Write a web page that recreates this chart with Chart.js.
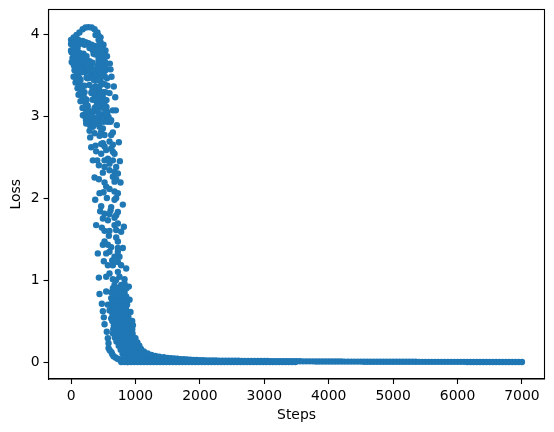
<!DOCTYPE html>
<html>
<head>
<meta charset="utf-8">
<title>Loss</title>
<script src="https://cdn.jsdelivr.net/npm/chart.js@4"></script>
<style>
  html, body { margin: 0; padding: 0; background: #fff; }
  canvas { display: block; }
</style>
</head>
<body>
<canvas id="myChart" width="554" height="432"></canvas>
<script>
// values, one group per visible part of the cloud
const xTicks = [0, 1000, 2000, 3000, 4000, 5000, 6000, 7000];
const yTicks = [0, 1, 2, 3, 4];

const outerSteps = [0, 40, 85, 130, 180, 225, 270, 320, 365, 410, 458, 504, 535, 558, 602, 613, 628, 664, 686, 695, 711];
const outerLoss = [3.93, 3.96, 3.99, 4.02, 4.06, 4.08, 4.085, 4.08, 4.06, 4.02, 3.96, 3.87, 3.80, 3.73, 3.64, 3.57, 3.48, 3.36, 3.23, 3.07, 2.89];

const secondSteps = [0, 55, 115, 180, 225, 270, 320, 365, 410, 442, 473, 504, 535, 558, 566, 597];
const secondLoss = [3.88, 3.90, 3.93, 3.915, 3.90, 3.89, 3.87, 3.855, 3.83, 3.78, 3.72, 3.65, 3.56, 3.46, 3.37, 3.28];

const thirdSteps = [55, 132, 210, 287, 349, 427, 427, 458, 473, 504, 520];
const thirdLoss = [3.88, 3.88, 3.87, 3.83, 3.76, 3.695, 3.59, 3.49, 3.39, 3.29, 3.20];

const fourthSteps = [8, 54, 132, 194, 240, 287, 318, 334, 365, 380, 411, 427];
const fourthLoss = [3.78, 3.80, 3.77, 3.76, 3.73, 3.67, 3.60, 3.52, 3.44, 3.34, 3.24, 3.15];

const fifthSteps = [23, 70, 132, 194, 240, 256, 287, 318, 334, 365];
const fifthLoss = [3.71, 3.71, 3.66, 3.61, 3.54, 3.46, 3.38, 3.28, 3.20, 3.10];

const sixthSteps = [50, 54, 101, 147, 178, 209, 240, 256];
const sixthLoss = [3.61, 3.56, 3.49, 3.44, 3.37, 3.29, 3.20, 3.11];

const leftSteps = [0, 10, 39, 70, 101, 116, 147, 178, 209, 233, 287];
const leftLoss = [3.80, 3.66, 3.48, 3.41, 3.34, 3.26, 3.18, 3.10, 3.02, 2.95, 2.90];

// points between the loops, only thin slivers stay open there
const packedSteps = [458, 427, 380, 427, 442, 489, 473, 520, 489, 527, 535, 497, 458, 427, 380, 333, 380, 427, 458, 489, 520,
  39, 39, 85, 39, 101, 85, 147, 39, 101, 163, 209, 256, 287, 225, 85, 147, 209, 256, 303, 318, 116, 163, 85, 132, 116, 163, 209,
  147, 178, 225, 209, 240, 271, 256, 318, 365, 318, 334, 318, 380, 427, 380, 442, 489, 520, 535, 550, 489, 427, 504, 550, 566, 504, 442, 550, 582, 613,
  411, 458, 380, 427];
const packedLoss = [3.90, 3.93, 3.99, 3.98, 3.88, 3.83, 3.78, 3.74, 3.68, 3.66, 3.61, 3.585, 3.65, 3.74, 3.80, 3.81, 3.75, 3.66, 3.61, 3.52, 3.49,
  3.88, 3.83, 3.855, 3.755, 3.83, 3.74, 3.73, 3.68, 3.66, 3.695, 3.67, 3.65, 3.61, 3.61, 3.60, 3.57, 3.54, 3.57, 3.535, 3.47, 3.52, 3.535, 3.54, 3.46, 3.40, 3.35, 3.37,
  3.29, 3.23, 3.155, 3.10, 3.05, 2.99, 2.94, 2.93, 2.965, 3.02, 3.34, 3.29, 3.195, 3.29, 3.29, 3.195, 3.24, 3.39, 3.29, 3.195, 3.155, 3.10, 3.10, 3.11, 3.05, 3.01, 3.00, 2.96, 2.99, 2.93,
  3.475, 3.44, 3.51, 3.535];

const closingSteps = [39, 132, 178, 256, 334, 365, 411, 287, 240, 349, 396, 442, 473, 427, 489, 442, 380, 349, 147, 101, 178, 209, 256, 287, 334, 396, 365, 427, 473, 458, 520, 535, 473, 411, 380, 442, 504, 566, 225, 365, 303];
const closingLoss = [3.63, 3.63, 3.65, 3.61, 3.65, 3.56, 3.61, 3.47, 3.47, 3.45, 3.51, 3.56, 3.50, 3.44, 3.39, 3.305, 3.365, 3.32, 3.35, 3.44, 3.29, 3.22, 3.13, 3.06, 3.05, 3.13, 3.22, 3.22, 3.28, 3.13, 3.135, 3.05, 3.00, 3.05, 2.975, 2.93, 2.93, 2.93, 2.985, 2.90, 2.87];

const looseTopSteps = [468, 520, 442, 468, 520, 520, 442, 572, 623, 442, 184, 246, 313, 235, 339, 494, 649, 546];
const looseTopLoss = [3.785, 3.72, 3.36, 3.26, 3.20, 3.09, 3.03, 2.95, 2.95, 2.87, 3.01, 3.07, 3.00, 2.91, 2.87, 2.85, 3.07, 3.03];

const looseMidSteps = [287, 297, 365, 468, 520, 623, 649, 442, 742, 313, 380, 468, 520, 597, 649, 494, 390, 468, 546, 649, 675, 623,
  339, 406, 432, 520, 572, 649, 758, 597, 701, 520, 494, 597, 675, 727, 365, 432, 520, 649, 675, 768, 701, 546, 597,
  442, 504, 556, 675, 727, 701, 675, 375, 804, 468, 623, 613, 452, 520, 597, 727, 701, 675, 494, 572,
  390, 478, 520, 597, 675, 727, 820, 778, 701, 587, 701, 727, 520, 494, 572, 623, 727, 804];
const looseMidLoss = [2.82, 2.74, 2.79, 2.81, 2.77, 2.77, 2.80, 2.76, 2.68, 2.62, 2.64, 2.66, 2.63, 2.69, 2.65, 2.67, 2.57, 2.54, 2.585, 2.565, 2.54, 2.605,
  2.46, 2.46, 2.40, 2.46, 2.48, 2.46, 2.45, 2.42, 2.38, 2.38, 2.31, 2.34, 2.32, 2.30, 2.25, 2.23, 2.19, 2.26, 2.20, 2.19, 2.23, 2.14, 2.11,
  2.06, 2.07, 2.00, 2.08, 2.06, 2.00, 1.98, 1.98, 1.92, 1.90, 1.89, 1.85, 1.84, 1.81, 1.805, 1.83, 1.79, 1.76, 1.75, 1.73,
  1.67, 1.64, 1.60, 1.60, 1.67, 1.69, 1.65, 1.59, 1.61, 1.54, 1.52, 1.47, 1.47, 1.43, 1.43, 1.40, 1.39, 1.39];

const looseLowSteps = [416, 546, 597, 727, 675, 752, 509, 572, 649, 727, 778, 856, 639, 432, 546, 597, 649, 727, 752, 830, 897, 675, 778, 830,
  442, 546, 623, 701, 778, 623, 778, 856, 908, 478, 572, 675, 804, 494, 597, 701, 830, 923, 509, 623, 752, 882, 949,
  650, 730, 800, 860, 700, 670, 730, 800, 640, 700, 760, 820, 860, 620, 720, 770, 830, 870, 650, 700, 750, 800, 850, 640, 690, 740, 790, 840, 880,
  690, 760, 830, 670, 745, 795, 845, 680, 730, 780, 850, 660, 710, 760, 810, 860, 640, 690, 740, 790, 840, 890,
  520, 555, 571, 582, 582, 628, 660, 721, 784, 876];
const looseLowLoss = [1.325, 1.325, 1.345, 1.345, 1.285, 1.285, 1.23, 1.18, 1.18, 1.22, 1.18, 1.14, 1.24, 1.03, 1.04, 1.08, 1.01, 1.10, 1.04, 1.01, 0.92, 0.94, 0.94, 0.96,
  0.83, 0.86, 0.85, 0.84, 0.88, 0.78, 0.78, 0.80, 0.76, 0.71, 0.70, 0.70, 0.72, 0.62, 0.63, 0.61, 0.63, 0.61, 0.545, 0.53, 0.55, 0.53, 0.50,
  0.90, 0.90, 0.90, 0.90, 1.00, 0.80, 0.80, 0.80, 0.75, 0.75, 0.75, 0.75, 0.75, 0.70, 0.70, 0.70, 0.70, 0.70, 0.65, 0.65, 0.65, 0.65, 0.65, 0.60, 0.60, 0.60, 0.60, 0.60, 0.60,
  0.85, 0.85, 0.85, 0.725, 0.725, 0.725, 0.725, 0.675, 0.675, 0.675, 0.675, 0.625, 0.625, 0.625, 0.625, 0.625, 0.55, 0.55, 0.55, 0.55, 0.55, 0.55,
  0.46, 0.37, 0.29, 0.23, 0.17, 0.12, 0.07, 0.04, 0.02, 0];

const blobSteps = [640, 690, 740, 790, 840, 890, 665, 715, 765, 815, 865, 915, 960, 655, 705, 755, 805, 855, 905, 950, 650, 700, 750, 800, 850, 900, 955,
  680, 730, 780, 830, 880, 930, 975, 726, 775, 825, 875, 925, 975, 760, 810, 860, 910, 960, 1005, 1040,
  795, 845, 895, 945, 995, 1045, 1085, 825, 875, 925, 975, 1025, 1075, 1125, 1170, 840, 890, 940, 990, 1040, 1090, 1140, 1190, 1250, 1310];
const blobLoss = [0.50, 0.50, 0.50, 0.50, 0.50, 0.50, 0.45, 0.45, 0.45, 0.45, 0.45, 0.45, 0.45, 0.40, 0.40, 0.40, 0.40, 0.40, 0.40, 0.40, 0.35, 0.35, 0.35, 0.35, 0.35, 0.35, 0.35,
  0.30, 0.30, 0.30, 0.30, 0.30, 0.30, 0.30, 0.25, 0.25, 0.25, 0.25, 0.25, 0.25, 0.20, 0.20, 0.20, 0.20, 0.20, 0.20, 0.20,
  0.15, 0.15, 0.15, 0.15, 0.15, 0.15, 0.15, 0.10, 0.10, 0.10, 0.10, 0.10, 0.10, 0.10, 0.10, 0.05, 0.05, 0.05, 0.05, 0.05, 0.05, 0.05, 0.05, 0.05, 0.05];

// either side of the narrow gap at the foot of the cloud
const footSteps = [705, 740, 770, 800, 815, 600, 640, 690, 750, 820];
const footLoss = [0.25, 0.20, 0.15, 0.10, 0.05, 0.145, 0.095, 0.055, 0.03, 0.01];

const shoulderSteps = [1000, 1030, 1060, 1086, 1130, 1190, 1249, 1310, 1370, 1440];
const shoulderLoss = [0.29, 0.24, 0.20, 0.16, 0.13, 0.105, 0.085, 0.075, 0.065, 0.058];

const floorSteps = [780, 830, 880, 930, 980, 1030, 1080, 1130, 1180, 1230, 1280, 1330, 1380, 1430, 1480, 1530, 1580, 1630, 1680, 1730, 1780, 1830, 1880, 1930, 1980,
  2030, 2080, 2130, 2180, 2230, 2280, 2330, 2380, 2430, 2480, 2530, 2580, 2630, 2680, 2730, 2780, 2830, 2880, 2930, 2980, 3030, 3080, 3130, 3180, 3230, 3280, 3330, 3380, 3430, 3480];
const floorLoss = [0, 0, 0, 0, 0, 0, 0, 0, 0, 0, 0, 0, 0, 0, 0, 0, 0, 0, 0, 0, 0, 0, 0, 0, 0,
  0, 0, 0, 0, 0, 0, 0, 0, 0, 0, 0, 0, 0, 0, 0, 0, 0, 0, 0, 0, 0, 0, 0, 0, 0, 0, 0, 0, 0, 0];

const tailSteps = [1500, 1550, 1600, 1650, 1700, 1750, 1800, 1850, 1900, 1950, 2000, 2050, 2100, 2150, 2200, 2250, 2300, 2350, 2400, 2450, 2500,
  2550, 2600, 2650, 2700, 2750, 2800, 2850, 2900, 2950, 3000, 3050, 3100, 3150, 3200, 3250, 3300, 3350, 3400, 3450, 3500,
  3550, 3600, 3650, 3700, 3750, 3800, 3850, 3900, 3950, 4000, 4050, 4100, 4150, 4200, 4250, 4300, 4350, 4400, 4450, 4500,
  4550, 4600, 4650, 4700, 4750, 4800, 4850, 4900, 4950, 5000, 5050, 5100, 5150, 5200, 5250, 5300, 5350, 5400, 5450, 5500,
  5550, 5600, 5650, 5700, 5750, 5800, 5850, 5900, 5950, 6000, 6050, 6100, 6150, 6200, 6250, 6300, 6350, 6400, 6450, 6500,
  6550, 6600, 6650, 6700, 6750, 6800, 6850, 6900, 6950, 7000];
const tailLoss = [0.050, 0.047, 0.043, 0.040, 0.036, 0.033, 0.030, 0.028, 0.026, 0.024, 0.022, 0.021, 0.020, 0.019, 0.018, 0.018, 0.017, 0.017, 0.016, 0.016, 0.015,
  0.015, 0.015, 0.014, 0.014, 0.014, 0.013, 0.013, 0.013, 0.012, 0.012, 0.012, 0.011, 0.011, 0.011, 0.010, 0.010, 0.010, 0.009, 0.009, 0.009,
  0.009, 0.008, 0.008, 0.008, 0.008, 0.007, 0.007, 0.007, 0.007, 0.006, 0.006, 0.006, 0.006, 0.006, 0.005, 0.005, 0.005, 0.005, 0.005, 0.005,
  0.004, 0.004, 0.004, 0.004, 0.004, 0.004, 0.004, 0.003, 0.003, 0.003, 0.003, 0.003, 0.003, 0.003, 0.003, 0.003, 0.003, 0.002, 0.002, 0.002,
  0.002, 0.002, 0.002, 0.002, 0.002, 0.002, 0.002, 0.002, 0.002, 0.002, 0.002, 0.002, 0.001, 0.001, 0.001, 0.001, 0.001, 0.001, 0.001, 0.001,
  0.001, 0.001, 0.001, 0.001, 0.001, 0.001, 0.001, 0.001, 0.001, 0.001];

const steps = [].concat(outerSteps, secondSteps, thirdSteps, fourthSteps, fifthSteps, sixthSteps, leftSteps, packedSteps, closingSteps,
  looseTopSteps, looseMidSteps, looseLowSteps, blobSteps, footSteps, shoulderSteps, floorSteps, tailSteps);
const loss = [].concat(outerLoss, secondLoss, thirdLoss, fourthLoss, fifthLoss, sixthLoss, leftLoss, packedLoss, closingLoss,
  looseTopLoss, looseMidLoss, looseLowLoss, blobLoss, footLoss, shoulderLoss, floorLoss, tailLoss);

Chart.defaults.color = '#000';
Chart.defaults.font.family = '"DejaVu Sans"';
Chart.defaults.font.size = 13.9;

// top and right spines, chart.js only has the two axis borders
const frame = {
  id: 'frame',
  afterDraw(chart) {
    const a = chart.chartArea, c = chart.ctx;
    c.save();
    c.strokeStyle = '#000';
    c.lineWidth = 1.1;
    c.strokeRect(a.left, a.top, a.right - a.left, a.bottom - a.top);
    c.restore();
  }
};

new Chart(document.getElementById('myChart'), {
  type: 'scatter',
  data: {
    datasets: [{
      label: 'Loss',
      data: steps.map((s, i) => ({ x: s, y: loss[i] })),
      backgroundColor: '#1f77b4',
      borderWidth: 0,
      pointRadius: 3.2,
    }]
  },
  plugins: [frame],
  options: {
    responsive: false,
    animation: false,
    layout: { padding: { top: 9.5, right: 9.5, left: 0, bottom: 0 } },
    plugins: { legend: { display: false }, tooltip: { enabled: false } },
    scales: {
      x: {
        type: 'linear',
        min: -350,
        max: 7350,
        afterBuildTicks(s) { s.ticks = xTicks.map(v => ({ value: v })); },
        afterFit(s) { s.height = 53; s.paddingLeft = 0; s.paddingRight = 0; },
        grid: { drawOnChartArea: false, tickColor: '#000', tickLength: 5, tickWidth: 1.1 },
        border: { color: '#000', width: 1.1 },
        ticks: { maxRotation: 0, autoSkip: false, padding: 4, callback: v => String(v) },
        title: { display: true, text: 'Steps', padding: { top: 3, bottom: 8 } }
      },
      y: {
        min: -0.207,
        max: 4.3,
        afterBuildTicks(s) { s.ticks = yTicks.map(v => ({ value: v })); },
        afterFit(s) { s.width = 48.5; s.paddingTop = 0; s.paddingBottom = 0; },
        grid: { drawOnChartArea: false, tickColor: '#000', tickLength: 5, tickWidth: 1.1 },
        border: { color: '#000', width: 1.1 },
        ticks: { autoSkip: false, padding: 4, callback: v => String(v) },
        title: { display: true, text: 'Loss', padding: { top: 8, bottom: 0 } }
      }
    }
  }
});
</script>
</body>
</html>
